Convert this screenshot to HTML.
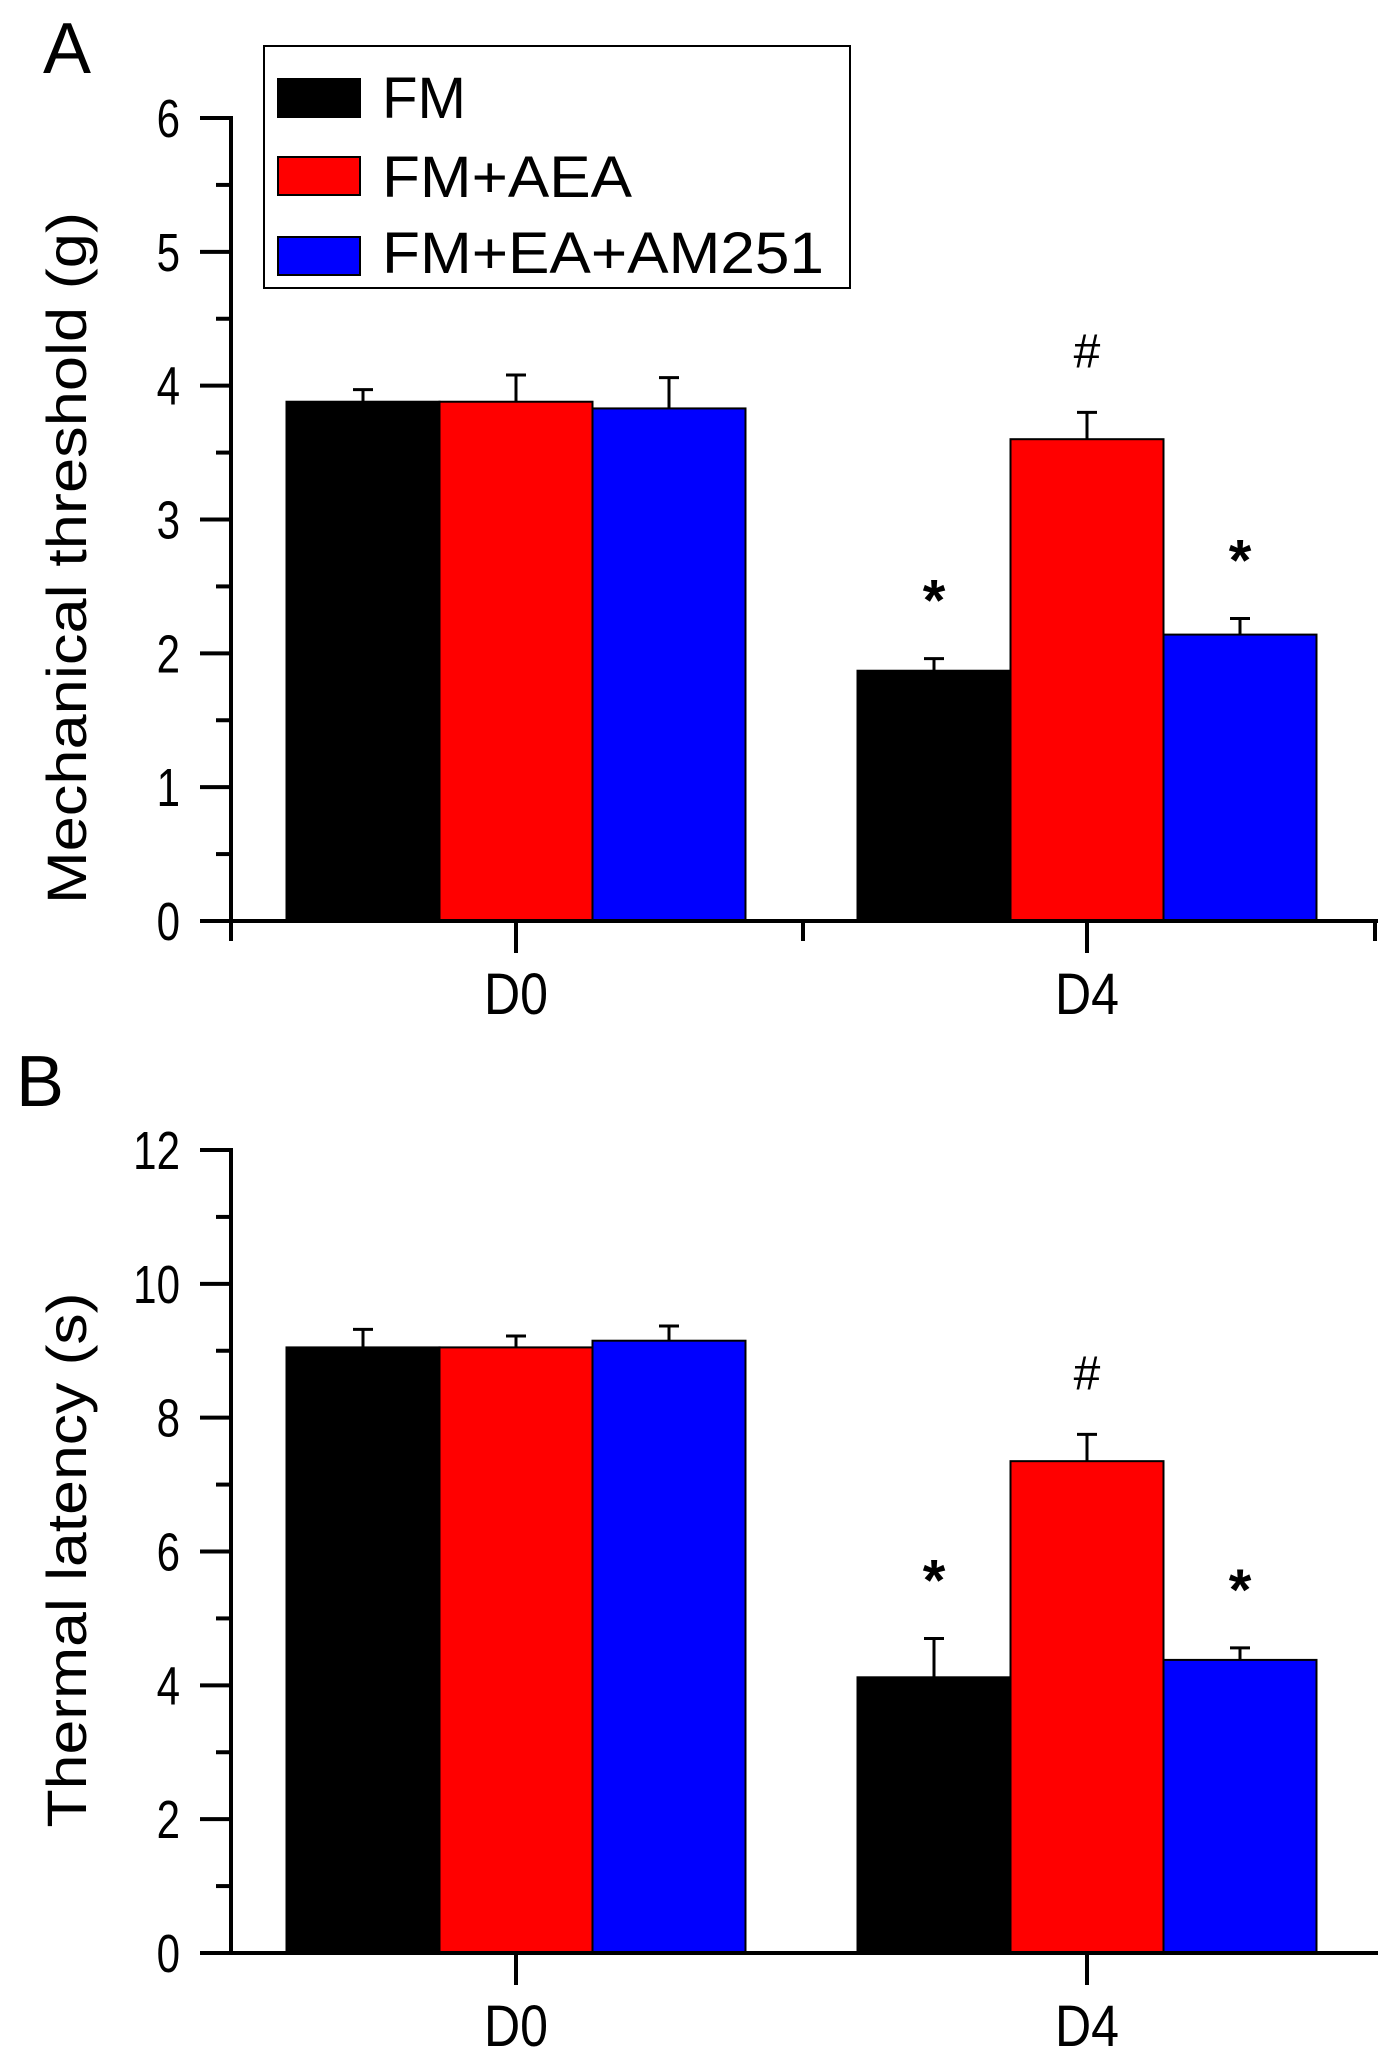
<!DOCTYPE html>
<html><head><meta charset="utf-8"><style>
html,body{margin:0;padding:0;background:#fff}
svg{display:block}
text{font-family:"Liberation Sans",Arial,sans-serif;fill:#000}
</style></head><body>
<svg id="fig" width="1386" height="2066" viewBox="0 0 1386 2066"></svg>
<script>
const groups = ["D0","D4"];
const seriesNames = ["FM","FM+AEA","FM+EA+AM251"];
const colors = ["#000000","#ff0000","#0000ff"];
const mechValues = [[3.88,1.87],[3.88,3.60],[3.83,2.14]];
const mechErr = [[0.09,0.09],[0.20,0.20],[0.23,0.12]];
const mechTicks = [0,1,2,3,4,5,6];
const thermValues = [[9.05,4.12],[9.05,7.35],[9.15,4.38]];
const thermErr = [[0.27,0.58],[0.17,0.40],[0.22,0.18]];
const thermTicks = [0,2,4,6,8,10,12];
const mechMarks = [["","*"],["","#"],["","*"]];
const thermMarks = [["","*"],["","#"],["","*"]];

const NS="http://www.w3.org/2000/svg";
const svg=document.getElementById('fig');
function el(tag,attrs,parent,txt){const e=document.createElementNS(NS,tag);for(const k in attrs)e.setAttribute(k,attrs[k]);if(txt!==undefined)e.textContent=txt;(parent||svg).appendChild(e);return e;}

function panel(cfg){
  const g=el('g',{});
  
  
  const x0=231,x1=1378,ymax=cfg.ticks[cfg.ticks.length-1];
  const Y=v=>cfg.yBase-(v/ymax)*(cfg.yBase-cfg.yTop);
  const groupCenters=[516,1087];
  const bw=153;
  const X=(gi,si)=>groupCenters[gi]+(si-1)*bw;
  cfg.values.forEach((ser,si)=>ser.forEach((v,gi)=>{
    const cx=X(gi,si);
    const r=el('rect',{x:cx-bw/2,y:Y(v),width:bw,height:Y(0)-Y(v),fill:colors[si],stroke:'#000','stroke-width':2},g);
    
    
    const e=cfg.err[si][gi];
    const eb=el('path',{d:`M${cx} ${Y(v)} V${Y(v+e)} M${cx-10} ${Y(v+e)} H${cx+10}`,stroke:'#000','stroke-width':3,fill:'none'},g);
    
    
    const m=cfg.marks[si][gi];
    if(m){
      const t=el('text',{x:cx,y:Y(v+e)-(m==='#'?45:38),'text-anchor':'middle','font-size':m==='#'?48:58,'font-weight':m==='*'?'bold':'normal'},g,m);
      
      
    }
  }));
  const ax=el('path',{d:`M${x0} ${cfg.yTop-2} V${Y(0)} H${x1}`,stroke:'#000','stroke-width':4,fill:'none'},g);
  
  
  cfg.ticks.forEach((t,i)=>{
    el('line',{x1:200,x2:x0,y1:Y(t),y2:Y(t),stroke:'#000','stroke-width':4},g);
    if(i<cfg.ticks.length-1){const h=(t+cfg.ticks[i+1])/2;el('line',{x1:216,x2:x0,y1:Y(h),y2:Y(h),stroke:'#000','stroke-width':4},g);}
    const lb=el('text',{x:180,y:Y(t)+19,'text-anchor':'end','font-size':54,'transform':`translate(180 0) scale(0.78 1) translate(-180 0)`},g,String(t));
    
    
  });
  groupCenters.forEach((c,gi)=>{
    el('line',{x1:c,x2:c,y1:Y(0),y2:Y(0)+32,stroke:'#000','stroke-width':4},g);
    const lb=el('text',{x:c,y:Y(0)+93,'text-anchor':'middle','font-size':58,textLength:64,lengthAdjust:'spacingAndGlyphs'},g,groups[gi]);
    
    
  });
  if(cfg.minorX){[231,803,1375].forEach(x=>el('line',{x1:x,x2:x,y1:Y(0),y2:Y(0)+20,stroke:'#000','stroke-width':4},g));}
  const ttl=el('text',{x:0,y:0,'text-anchor':'middle','font-size':56,textLength:cfg.titleLen,lengthAdjust:'spacingAndGlyphs',transform:`translate(86 ${cfg.titleY}) rotate(-90)`},g,cfg.title);
  
  
  const pl=el('text',{x:cfg.letterX,y:cfg.letterY,'font-size':72},g,cfg.letter);
  
  
}

panel({name:'panel-a-mechanical',values:mechValues,err:mechErr,ticks:mechTicks,yTop:118,yBase:921,
  marks:mechMarks,title:'Mechanical threshold (g)',titleLen:692,titleY:558,letter:'A',letterX:43,letterY:73,minorX:true});
panel({name:'panel-b-thermal',values:thermValues,err:thermErr,ticks:thermTicks,yTop:1150,yBase:1953,
  marks:thermMarks,title:'Thermal latency (s)',titleLen:535,titleY:1560,letter:'B',letterX:16,letterY:1106,minorX:false});

const lg=el('g',{});


el('rect',{x:264,y:46,width:586,height:242,fill:'#fff',stroke:'#000','stroke-width':2},lg);
const sy=[79,157,237],ty=[118,197,273];
seriesNames.forEach((n,i)=>{
  const r=el('rect',{x:278,y:sy[i],width:82,height:38,fill:colors[i],stroke:'#000','stroke-width':2},lg);
  
  
  const t=el('text',{x:382,y:ty[i],'font-size':58,textLength:[84,250,442][i],lengthAdjust:'spacingAndGlyphs'},lg,n);
  
  
});
</script>
</body></html>
